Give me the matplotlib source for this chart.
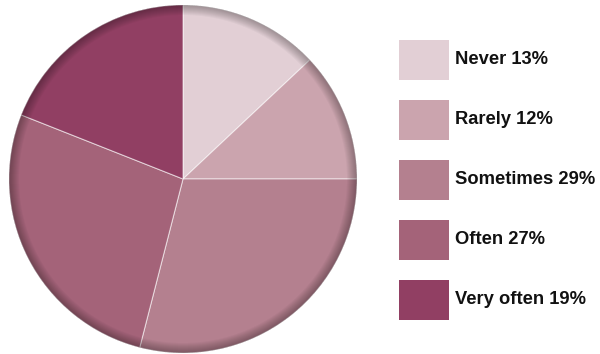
import matplotlib
matplotlib.use("Agg")
import matplotlib.pyplot as plt
from matplotlib.patches import Wedge, Rectangle

labels = ["Never", "Rarely", "Sometimes", "Often", "Very often"]
shares = [13, 12, 29, 27, 19]
colors = ["#e2cfd5", "#cba4ae", "#b4808f", "#a46379", "#913f63"]

W, H = 600, 354
fig = plt.figure(figsize=(W / 100, H / 100), dpi=100)
ax = fig.add_axes([0, 0, 1, 1])

cx, cy, r = 183, H - 179, 174

wedges, _ = ax.pie(shares, colors=colors, startangle=90, counterclock=False,
                   center=(cx, cy), radius=r, frame=True,
                   wedgeprops=dict(edgecolor=(1, 1, 1, 0.55), linewidth=0.8))
ax.set_xlim(0, W)
ax.set_ylim(0, H)
ax.set_aspect("equal")
ax.axis("off")

# soft inner shadow along the rim
n = 10
for i in range(n):
    ax.add_patch(Wedge((cx, cy), r, 0, 360, width=n - i,
                       facecolor="black", edgecolor="none", alpha=0.03))

# legend swatches and labels
x0, y0, sw, sh, step = 399, 40, 50, 40, 60
for i, (lab, val, col) in enumerate(zip(labels, shares, colors)):
    top = H - (y0 + i * step)
    ax.add_patch(Rectangle((x0, top - sh), sw, sh, facecolor=col, edgecolor="none"))
    ax.text(x0 + sw + 6, top - sh / 2, f"{lab} {val}%", ha="left", va="center",
            fontsize=13.2, fontweight="bold", family="Liberation Sans", color="#111111")

fig.savefig("out.png", dpi=100)
